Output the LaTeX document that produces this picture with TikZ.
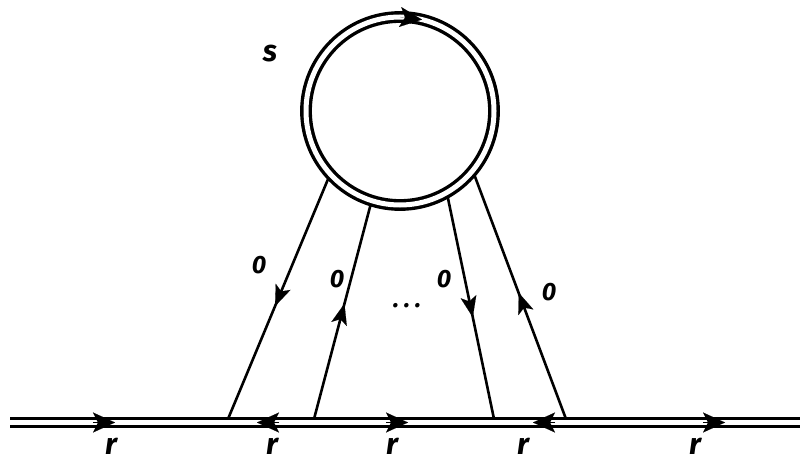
\documentclass[tikz,border=0pt]{standalone}
\usepackage{fontspec}
\setmainfont{Fira Sans}
\usetikzlibrary{arrows.meta,calc}
\begin{document}
\begin{tikzpicture}[x=1pt,y=1pt,
  lab/.style={font=\fontsize{30}{30}\selectfont\bfseries\itshape, inner sep=0pt, anchor=base},
  zlab/.style={font=\fontsize{25}{25}\selectfont\bfseries\itshape, inner sep=0pt, anchor=base},
  prop/.style={line width=2.6pt},
  dbl/.style={double, double distance=5pt, line width=3pt},
  tiparrow/.style={line width=0.1pt, -{Stealth[length=21pt,width=16pt,inset=5pt]}},
  dtiparrow/.style={line width=0.1pt, -{Stealth[length=22pt,width=20pt,inset=5pt]}},
]
\useasboundingbox (0,0) rectangle (800,456);
\node[circle, draw, double, double distance=5pt, line width=3.4pt, minimum size=188pt, inner sep=0pt] (S) at (400,345) {};
\coordinate (t1) at ([shift={(223.4:99)}]S.center);
\coordinate (t2) at ([shift={(252.6:99)}]S.center);
\coordinate (t3) at ([shift={(298.9:99)}]S.center);
\coordinate (t4) at ([shift={(319:99)}]S.center);
\coordinate (b1) at (228,37);
\coordinate (b2) at (314,37);
\coordinate (b3) at (494,37);
\coordinate (b4) at (566,37);
\coordinate (L) at (10,33.5);
\coordinate (R) at (800,33.5);
\draw[prop] (t1) -- (b1);
\draw[prop] (b2) -- (t2);
\draw[prop] (t3) -- (b3);
\draw[prop] (b4) -- (t4);
% arrowheads on the legs (tip at fraction along each leg)
\draw[tiparrow] ($(t1)!0.45!(b1)$) -- ($(t1)!0.53!(b1)$);
\draw[tiparrow] ($(b2)!0.45!(t2)$) -- ($(b2)!0.54!(t2)$);
\draw[tiparrow] ($(t3)!0.45!(b3)$) -- ($(t3)!0.54!(b3)$);
\draw[tiparrow] ($(b4)!0.44!(t4)$) -- ($(b4)!0.52!(t4)$);
\draw[dbl] (L) -- (R);
% arrowheads on the double line
\coordinate (a1) at (115,33.5);
\coordinate (a2) at (257,33.5);
\coordinate (a3) at (408,33.5);
\coordinate (a4) at (533,33.5);
\coordinate (a5) at (725,33.5);
\draw[dtiparrow] ([xshift=-22pt]a1) -- (a1);
\draw[dtiparrow] ([xshift=22pt]a2) -- (a2);
\draw[dtiparrow] ([xshift=-22pt]a3) -- (a3);
\draw[dtiparrow] ([xshift=22pt]a4) -- (a4);
\draw[dtiparrow] ([xshift=-22pt]a5) -- (a5);
% arrowhead on the loop
\coordinate (c1) at ([shift={(90:94)}]S.center);
\coordinate (c2) at ([shift={(76.5:94)}]S.center);
\draw[dtiparrow] (c1) -- (c2);
\node[lab] (s) at (270,394) {s};
\node[zlab] (z1) at (259,183) {0};
\node[zlab] (z2) at (337,169) {0};
\node[zlab] (z3) at (444,169) {0};
\node[zlab] (z4) at (549,156) {0};
\node[zlab] (dots) at (407,149) {.\hspace{5pt}.\hspace{5pt}.};
\node[lab] (r1) at (111,1.5) {r};
\node[lab] (r2) at (272,1.5) {r};
\node[lab] (r3) at (392,1.5) {r};
\node[lab] (r4) at (523,1.5) {r};
\node[lab] (r5) at (695,1.5) {r};
\end{tikzpicture}
\end{document}
